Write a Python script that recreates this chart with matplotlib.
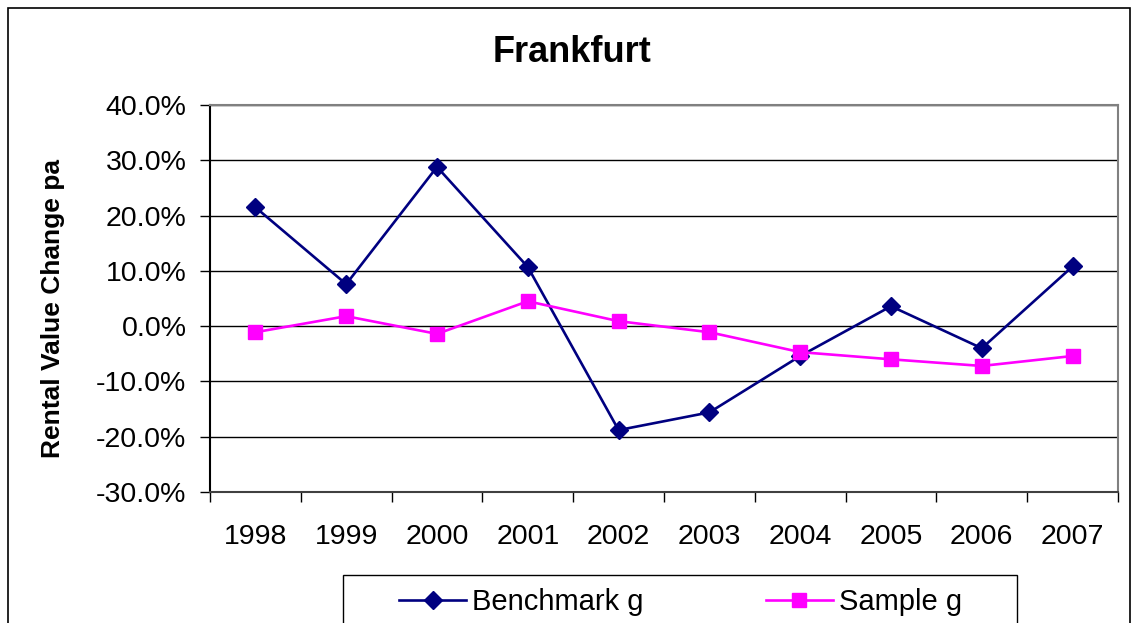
import matplotlib.pyplot as plt
from matplotlib.patches import Rectangle
from matplotlib.ticker import FuncFormatter, FixedLocator

plt.rcParams['font.family'] = ['Liberation Sans', 'DejaVu Sans']

years = ['1998', '1999', '2000', '2001', '2002', '2003', '2004', '2005', '2006', '2007']
benchmark = [21.5, 7.6, 28.8, 10.7, -18.8, -15.6, -5.4, 3.6, -4.0, 10.8]
sample = [-1.1, 1.8, -1.4, 4.5, 0.9, -1.1, -4.7, -6.0, -7.2, -5.4]

W, H = 1136, 623
fig = plt.figure(figsize=(W / 100, H / 100), dpi=100)
ax = fig.add_axes([210 / W, 1 - 492 / H, (1118 - 210) / W, (492 - 105) / H])

# outer chart border and legend box (both run off the bottom edge)
fig.patches.append(Rectangle((8 / W, -0.01), (1130 - 8) / W, 1.01 - 8 / H,
                             transform=fig.transFigure, fill=False,
                             edgecolor='black', linewidth=1.2))
fig.patches.append(Rectangle((343 / W, -0.01), (1017 - 343) / W, 0.01 + 1 - 575 / H,
                             transform=fig.transFigure, fill=False,
                             edgecolor='black', linewidth=1))

x = list(range(len(years)))
ax.plot(x, benchmark, color='#000080', marker='D', markersize=9.5, linewidth=1.9,
        label='Benchmark g', zorder=3)
ax.plot(x, sample, color='#FF00FF', marker='s', markersize=10, linewidth=1.9,
        label='Sample g', zorder=3)

ax.set_xlim(-0.5, len(years) - 0.5)
ax.set_ylim(-30, 40)
ax.set_yticks(range(-30, 41, 10))
ax.yaxis.set_major_formatter(FuncFormatter(lambda v, p: f'{v:.1f}%'))
ax.grid(axis='y', color='black', linewidth=1)
ax.set_axisbelow(True)

ax.set_xticks(x)
ax.set_xticklabels(years)
ax.xaxis.set_minor_locator(FixedLocator([i - 0.5 for i in range(len(years) + 1)]))
ax.tick_params(axis='x', which='major', length=0, pad=23, labelsize=20.5)
ax.tick_params(axis='x', which='minor', length=7, width=1, direction='out')
ax.tick_params(axis='y', length=7, width=1, direction='out', labelsize=20.5, pad=10)

for s in ['top', 'right']:
    ax.spines[s].set_color('#808080')
    ax.spines[s].set_linewidth(1.5)
ax.spines['left'].set_linewidth(1.5)
ax.spines['bottom'].set_color('#404040')
ax.spines['bottom'].set_linewidth(1.5)

ax.set_ylabel('Rental Value Change pa', fontsize=19, fontweight='bold')
ax.yaxis.set_label_coords((65 - 210) / 908, 0.473)
fig.text(572 / W, 1 - 53 / H, 'Frankfurt', fontsize=26, fontweight='bold',
         ha='center', va='center')

leg = fig.legend(loc='center left', bbox_to_anchor=(399 / W, 1 - 602 / H),
                 ncol=2, fontsize=21, frameon=False, handlelength=2.3,
                 columnspacing=4.2, borderpad=0, handletextpad=0.2,
                 borderaxespad=0)

fig.savefig('out.png', dpi=100)
